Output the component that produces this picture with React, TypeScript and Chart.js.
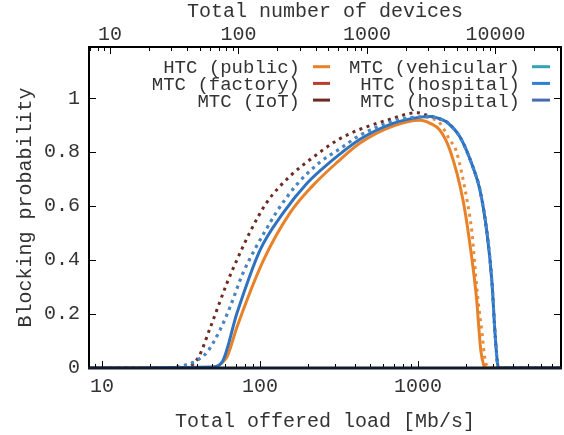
import { useEffect, useRef } from 'react';
import { Chart, registerables } from 'chart.js';

Chart.register(...registerables);

const FONT = "'Courier New', 'Liberation Mono', monospace";
const TEXT_COLOR = '#333';

// ---- axis titles and ticks ----
const xTitle = 'Total offered load [Mb/s]';
const x2Title = 'Total number of devices';
const yTitle = 'Blocking probability';
const xTickValues = [10, 100, 1000];
const x2TickValues = [10, 100, 1000, 10000];
const yTickValues = [0, 0.2, 0.4, 0.6, 0.8, 1];
const decades = [1, 10, 100, 1000, 10000];
const minorMultipliers = [1, 2, 3, 4, 5, 6, 7, 8, 9];

// ---- legend (as printed in the figure) ----
const legendLabels = [
  'HTC (public)',
  'MTC (factory)',
  'MTC (IoT)',
  'MTC (vehicular)',
  'HTC (hospital)',
  'MTC (hospital)',
];
const legendColors = ['#e8822a', '#c0392f', '#6b2a22', '#33a3b5', '#2f7fd0', '#4a6ab2'];

// ---- series (load in Mb/s, blocking probability) ----
const htcPublicLoad = [8, 49.7, 57.5, 61.8, 71.5, 104.5, 154.8, 216.5, 307.1, 429.6, 695, 1030, 1191, 1378, 1594, 1927, 2156, 2352, 2432, 2494, 2600, 2680, 8100];
const htcPublicBlock = [0, 0, 0.02, 0.041, 0.152, 0.396, 0.575, 0.677, 0.762, 0.834, 0.897, 0.918, 0.907, 0.881, 0.807, 0.622, 0.437, 0.252, 0.141, 0.067, 0.012, 0, 0];

const mtcPublicLoad = [8, 27.7, 29.8, 37.1, 46.2, 55.8, 64.6, 78, 92.9, 107.6, 128.1, 171.5, 239.8, 320.8, 429.6, 695, 890, 1075, 1226, 1378, 1594, 1740, 2042, 2197, 2295, 2397, 2542, 2656, 2773, 2820, 8100];
const mtcPublicBlock = [0, 0, 0.004, 0.019, 0.059, 0.141, 0.226, 0.352, 0.441, 0.507, 0.581, 0.681, 0.763, 0.813, 0.863, 0.915, 0.928, 0.931, 0.925, 0.907, 0.844, 0.807, 0.622, 0.5, 0.374, 0.252, 0.13, 0.03, 0.004, 0, 0];

const htcHospitalLoad = [8, 49.7, 57.5, 71.5, 100, 139.8, 198.4, 277.3, 429.6, 695, 1030, 1191, 1440, 1526, 1845, 2229, 2468, 2734, 2940, 3071, 3213, 3260, 8100];
const htcHospitalBlock = [0, 0.004, 0.022, 0.204, 0.437, 0.574, 0.685, 0.763, 0.848, 0.907, 0.93, 0.932, 0.919, 0.911, 0.856, 0.744, 0.659, 0.5, 0.315, 0.13, 0.004, 0, 0];

const mtcHospitalLoad = [8, 27.7, 29.8, 37.1, 46.2, 55.8, 64.6, 78, 92.9, 107.6, 128.1, 171.5, 239.8, 320.8, 429.6, 695, 890, 1075, 1191, 1440, 1526, 1845, 2229, 2468, 2734, 2940, 3071, 3213, 3260, 8100];
const mtcHospitalBlock = [0, 0, 0.004, 0.019, 0.059, 0.141, 0.226, 0.352, 0.441, 0.507, 0.581, 0.681, 0.763, 0.813, 0.863, 0.915, 0.928, 0.931, 0.932, 0.919, 0.911, 0.856, 0.744, 0.659, 0.5, 0.315, 0.13, 0.004, 0, 0];

const mtcIotLoad = [8, 33.5, 40.5, 48.3, 61.8, 74.7, 86.4, 110.7, 154.8, 216.5, 307.1, 387.8, 429.6, 695, 890, 1000, 1140, 1440, 1526, 1845, 2229, 2468, 2734, 2940, 3071, 3213, 3260, 8100];
const mtcIotBlock = [0, 0, 0.037, 0.148, 0.315, 0.426, 0.504, 0.615, 0.711, 0.781, 0.844, 0.874, 0.885, 0.926, 0.944, 0.946, 0.937, 0.919, 0.911, 0.856, 0.744, 0.659, 0.5, 0.315, 0.13, 0.004, 0, 0];

const toPoints = (xs: number[], ys: number[]) => xs.map((x, i) => ({ x, y: ys[i] }));

const framePlugin = {
  id: 'gnuplotFrame',
  afterDatasetsDraw(chart: any) {
    const { ctx, chartArea: a, scales } = chart;
    ctx.save();
    ctx.strokeStyle = '#000';
    ctx.lineWidth = 1;
    const logTicks = (scale: any, edge: number, dir: number) => {
      decades.forEach((d) => {
        minorMultipliers.forEach((m) => {
          const v = d * m;
          if (v < scale.min || v > scale.max) return;
          const px = Math.round(scale.getPixelForValue(v)) + 0.5;
          const len = m === 1 ? 7 : 4;
          ctx.beginPath();
          ctx.moveTo(px, edge);
          ctx.lineTo(px, edge + dir * len);
          ctx.stroke();
        });
      });
    };
    logTicks(scales.x, a.bottom, -1);
    logTicks(scales.x2, a.top, 1);
    yTickValues.forEach((v) => {
      const py = Math.round(scales.y.getPixelForValue(v)) + 0.5;
      ctx.beginPath();
      ctx.moveTo(a.left, py);
      ctx.lineTo(a.left + 7, py);
      ctx.moveTo(a.right, py);
      ctx.lineTo(a.right - 7, py);
      ctx.stroke();
    });
    ctx.lineWidth = 2;
    ctx.beginPath();
    ctx.moveTo(a.left, a.bottom);
    ctx.lineTo(a.left, a.top);
    ctx.lineTo(a.right, a.top);
    ctx.lineTo(a.right, a.bottom);
    ctx.stroke();
    ctx.strokeStyle = '#121a2c';
    ctx.lineWidth = 3;
    ctx.beginPath();
    ctx.moveTo(a.left - 1, a.bottom);
    ctx.lineTo(a.right + 1, a.bottom);
    ctx.stroke();
    ctx.restore();
  },
};

const legendPlugin = {
  id: 'cornerLegend',
  afterDraw(chart: any) {
    const ctx = chart.ctx;
    ctx.save();
    ctx.font = `19px ${FONT}`;
    ctx.textAlign = 'right';
    ctx.textBaseline = 'alphabetic';
    legendLabels.forEach((label, i) => {
      const col = Math.floor(i / 3);
      const row = i % 3;
      const y = 66.7 + row * 16.7;
      ctx.fillStyle = TEXT_COLOR;
      ctx.fillText(label, col ? 520 : 300, y + 6.5);
      ctx.strokeStyle = legendColors[i];
      ctx.lineWidth = 3;
      ctx.beginPath();
      ctx.moveTo(col ? 532 : 313, y);
      ctx.lineTo(col ? 550 : 330, y);
      ctx.stroke();
    });
    ctx.restore();
  },
};

const tickFont = { family: FONT, size: 20 };
const titleFont = { family: FONT, size: 20 };

export default function App() {
  const ref = useRef<HTMLCanvasElement | null>(null);
  useEffect(() => {
    if (!ref.current) return;
    const solid = (label: string, color: string, xs: number[], ys: number[], order: number) => ({
      label,
      data: toPoints(xs, ys),
      borderColor: color,
      backgroundColor: color,
      borderWidth: 3,
      pointRadius: 0,
      fill: false,
      cubicInterpolationMode: 'monotone' as const,
      order,
    });
    const dotted = (label: string, color: string, xs: number[], ys: number[], order: number) => ({
      ...solid(label, color, xs, ys, order),
      borderDash: [3, 4.5],
      borderCapStyle: 'butt' as const,
    });
    const chart = new Chart(ref.current, {
      type: 'line',
      data: {
        datasets: [
          dotted('MTC (hospital)', '#3a8ad8', mtcHospitalLoad, mtcHospitalBlock, 0),
          solid('HTC (hospital)', '#2f72c0', htcHospitalLoad, htcHospitalBlock, 1),
          solid('HTC (public)', '#e8822a', htcPublicLoad, htcPublicBlock, 2),
          dotted('MTC (IoT)', '#6b2a22', mtcIotLoad, mtcIotBlock, 3),
          dotted('MTC (public)', '#ea8c38', mtcPublicLoad, mtcPublicBlock, 4),
        ],
      },
      options: {
        animation: false,
        responsive: false,
        events: [],
        layout: { padding: { left: 0, right: 3, top: 0, bottom: 0 } },
        plugins: { legend: { display: false }, tooltip: { enabled: false } },
        scales: {
          x: {
            type: 'logarithmic',
            position: 'bottom',
            min: 8.27,
            max: 8035,
            grid: { display: false, drawTicks: false },
            border: { display: false },
            afterBuildTicks: (s: any) => {
              s.ticks = xTickValues.map((value) => ({ value }));
            },
            afterFit: (s: any) => {
              s.height = 67;
            },
            ticks: {
              color: TEXT_COLOR,
              font: tickFont,
              padding: 7,
              maxRotation: 0,
              autoSkip: false,
              callback: (v: any) => String(v),
            },
            title: { display: true, text: xTitle, color: TEXT_COLOR, font: titleFont, padding: { top: 0, bottom: 1 } },
          },
          x2: {
            type: 'logarithmic',
            axis: 'x',
            position: 'top',
            min: 6.865,
            max: 32340,
            grid: { display: false, drawTicks: false },
            border: { display: false },
            afterBuildTicks: (s: any) => {
              s.ticks = x2TickValues.map((value) => ({ value }));
            },
            afterFit: (s: any) => {
              s.height = 47;
            },
            ticks: {
              color: TEXT_COLOR,
              font: tickFont,
              padding: 0,
              maxRotation: 0,
              autoSkip: false,
              callback: (v: any) => String(v),
            },
            title: { display: true, text: x2Title, color: TEXT_COLOR, font: titleFont, padding: { top: 0, bottom: 0 } },
          },
          y: {
            type: 'linear',
            position: 'left',
            min: 0,
            max: 1.19,
            grid: { display: false, drawTicks: false },
            border: { display: false },
            afterBuildTicks: (s: any) => {
              s.ticks = yTickValues.map((value) => ({ value }));
            },
            afterFit: (s: any) => {
              s.width = 89;
            },
            ticks: {
              color: TEXT_COLOR,
              font: tickFont,
              padding: 9,
              callback: (v: any) => String(v),
            },
            title: { display: true, text: yTitle, color: TEXT_COLOR, font: titleFont, padding: { top: 14, bottom: 0 } },
          },
        },
      },
      plugins: [framePlugin, legendPlugin],
    } as any);
    return () => chart.destroy();
  }, []);
  return (
    <div style={{ position: 'absolute', left: 0, top: 0, width: 564, height: 435, background: '#fff' }}>
      <canvas ref={ref} width={564} height={435} style={{ display: 'block' }} />
    </div>
  );
}
